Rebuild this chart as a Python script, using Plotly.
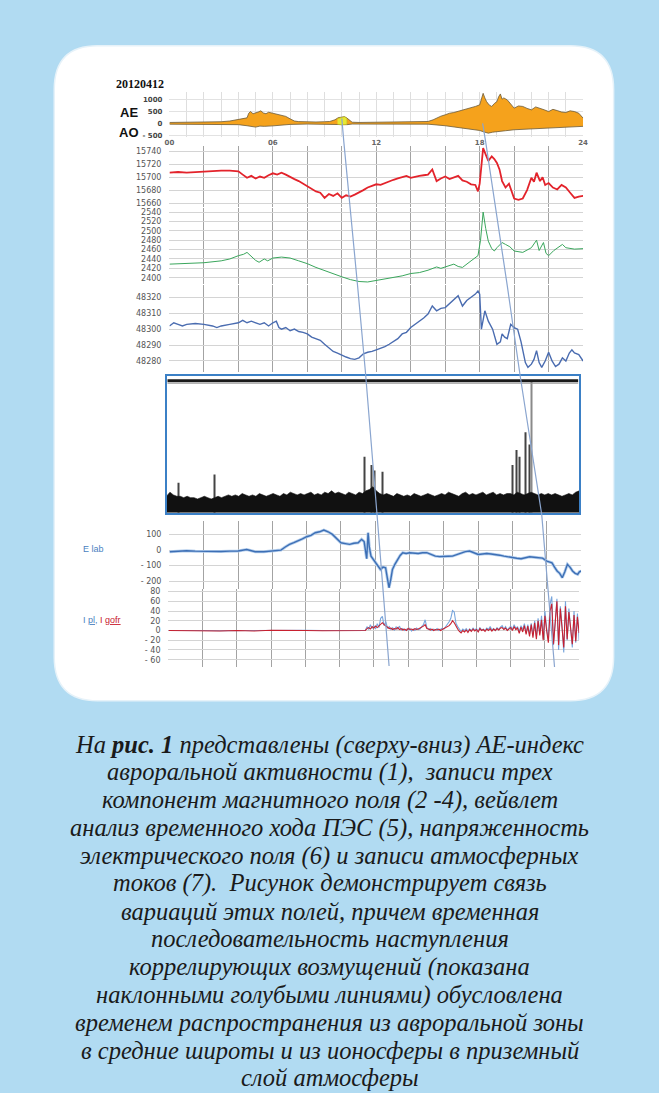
import plotly.graph_objects as go

# ---------------- DATA ----------------
date_label = "20120412"
hour_ticks = [0, 6, 12, 18, 24]
hour_labels = ["00", "06", "12", "18", "24"]

# AE index: upper envelope (AU) and lower envelope (AL), nT
ae_upper = [(0, 40), (1, 40), (2, 42), (3, 70), (3.5, 100), (4, 150), (4.3, 190), (4.5, 230), (4.6, 420),
            (4.7, 490), (4.85, 400), (5, 420), (5.15, 470), (5.3, 520), (5.45, 430), (5.6, 400), (5.75, 460),
            (6, 420), (6.25, 380), (6.5, 355), (6.75, 290), (7, 190), (7.25, 100), (7.5, 75), (8, 55), (8.5, 60),
            (9, 70), (9.3, 80), (9.6, 150), (9.8, 240), (10, 260), (10.15, 280), (10.3, 220), (10.45, 120),
            (10.6, 50), (11, 40), (12, 45), (13, 45), (14, 65), (15, 80), (15.3, 150), (15.5, 220), (15.75, 300),
            (16, 355), (16.25, 420), (16.5, 450), (16.75, 500), (17, 530), (17.25, 600), (17.5, 630), (17.75, 700),
            (18, 765), (18.1, 1000), (18.2, 1240), (18.3, 1050), (18.4, 900), (18.55, 760), (18.7, 700),
            (18.85, 820), (19, 900), (19.1, 1100), (19.2, 1215), (19.3, 1000), (19.4, 1050), (19.6, 970),
            (19.8, 800), (20, 630), (20.25, 720), (20.5, 700), (20.75, 620), (21, 560), (21.25, 680), (21.5, 630),
            (21.75, 560), (22, 490), (22.25, 580), (22.5, 530), (22.75, 470), (23, 450), (23.25, 520), (23.5, 490),
            (23.75, 420), (24, 220)]
ae_lower = [(0, -30), (3, -30), (4, -50), (4.5, -95), (4.75, -130), (5, -150), (5.25, -110), (5.5, -120),
            (6, -100), (6.5, -60), (7, -40), (8, -25), (9.6, -40), (10, -70), (10.3, -50), (10.6, -25), (15, -30),
            (16, -95), (16.5, -140), (17, -190), (17.5, -240), (18, -290), (18.25, -350), (18.5, -400),
            (18.75, -360), (19, -330), (19.5, -300), (20, -260), (20.5, -240), (21, -230), (21.5, -210),
            (22, -190), (22.5, -170), (23, -150), (23.5, -140), (24, -120)]
ae_yellow = [(9.75, 200), (10, 255), (10.15, 275), (10.3, 215), (10.3, -40), (10, -60), (9.75, -35)]

# Magnetic field components, nT
mag_h = [(0, 15707), (0.5, 15708), (1, 15707), (1.5, 15708), (2, 15708), (2.5, 15709), (3, 15710), (3.5, 15710),
         (4, 15709), (4.25, 15704), (4.5, 15699), (4.75, 15702), (5, 15698), (5.25, 15701), (5.5, 15699),
         (5.75, 15703), (6, 15706), (6.25, 15704), (6.5, 15707), (6.75, 15704), (7, 15700), (7.25, 15697),
         (7.5, 15694), (7.75, 15690), (8, 15685), (8.25, 15681), (8.5, 15678), (8.75, 15676), (9, 15668),
         (9.25, 15674), (9.5, 15671), (9.75, 15675), (10, 15668), (10.25, 15672), (10.5, 15670), (10.75, 15673),
         (11, 15676), (11.25, 15680), (11.5, 15684), (11.75, 15686), (12, 15689), (12.25, 15688), (12.5, 15691),
         (12.75, 15694), (13, 15696), (13.25, 15698), (13.5, 15700), (13.75, 15702), (14, 15699), (14.25, 15701),
         (14.5, 15702), (14.75, 15703), (15, 15704), (15.25, 15712), (15.5, 15694), (15.75, 15698), (16, 15701),
         (16.25, 15697), (16.5, 15699), (16.75, 15702), (17, 15695), (17.25, 15693), (17.5, 15689),
         (17.75, 15688), (17.9, 15678), (18.0, 15690), (18.2, 15745), (18.35, 15735), (18.5, 15725),
         (18.7, 15732), (18.85, 15728), (19, 15722), (19.15, 15712), (19.3, 15694), (19.5, 15684), (19.7, 15690),
         (19.85, 15678), (20, 15667), (20.25, 15665), (20.5, 15667), (20.75, 15680), (21, 15699), (21.15, 15693),
         (21.3, 15707), (21.5, 15694), (21.65, 15700), (21.8, 15688), (22, 15691), (22.25, 15684), (22.5, 15681),
         (22.75, 15688), (23, 15684), (23.25, 15676), (23.5, 15668), (23.75, 15670), (24, 15671)]
mag_d = [(0, 2429), (1, 2430), (2, 2432), (3, 2436), (3.5, 2440), (4, 2447), (4.3, 2450), (4.5, 2454), (4.75, 2445),
         (5, 2437), (5.2, 2433), (5.4, 2438), (5.5, 2440), (5.7, 2436), (6, 2442), (6.5, 2444), (7, 2442),
         (7.5, 2436), (8, 2430), (8.5, 2422), (9, 2415), (9.5, 2408), (10, 2402), (10.5, 2396), (11, 2392),
         (11.5, 2391), (12, 2394), (12.5, 2397), (13, 2401), (13.5, 2404), (14, 2409), (14.5, 2411), (15, 2416),
         (15.5, 2423), (15.75, 2420), (16, 2423), (16.5, 2429), (16.75, 2424), (17, 2422), (17.5, 2436),
         (17.9, 2447), (18.05, 2480), (18.2, 2540), (18.35, 2505), (18.5, 2478), (18.7, 2462), (18.85, 2457),
         (19, 2464), (19.3, 2475), (19.5, 2471), (19.75, 2466), (20, 2457), (20.5, 2454), (21, 2464), (21.3, 2480),
         (21.45, 2458), (21.6, 2470), (21.7, 2475), (21.85, 2452), (22, 2447), (22.3, 2458), (22.6, 2467),
         (22.8, 2471), (23, 2464), (23.5, 2461), (24, 2462)]
mag_z = [(0, 48302), (0.25, 48304), (0.5, 48303), (0.75, 48302), (1, 48303), (1.5, 48303.5), (2, 48303),
         (2.5, 48302), (2.75, 48301), (3, 48302), (3.5, 48303), (4, 48304), (4.25, 48305.5), (4.5, 48304),
         (4.75, 48305), (5, 48304), (5.25, 48303), (5.5, 48304), (5.75, 48302), (6, 48304), (6.2, 48305),
         (6.35, 48301), (6.5, 48300), (6.75, 48301), (7, 48299), (7.25, 48300), (7.5, 48298.5), (7.75, 48298),
         (8, 48297), (8.25, 48295), (8.5, 48294), (8.75, 48293), (9, 48290.5), (9.25, 48288), (9.5, 48286),
         (9.75, 48285), (10, 48283.5), (10.25, 48282.5), (10.5, 48281.5), (10.75, 48281), (11, 48282),
         (11.25, 48284.5), (11.5, 48285.5), (11.75, 48286), (12, 48287), (12.25, 48288), (12.5, 48289),
         (12.75, 48290.5), (13, 48292), (13.25, 48294), (13.5, 48297), (13.75, 48298), (14, 48301),
         (14.25, 48303), (14.5, 48304.5), (14.75, 48307), (15, 48309.5), (15.25, 48314.5), (15.5, 48311.5),
         (15.75, 48313), (16, 48313.5), (16.25, 48316), (16.5, 48318), (16.75, 48321), (17, 48314.5),
         (17.25, 48318), (17.5, 48320), (17.75, 48322), (17.9, 48324), (18.0, 48322), (18.1, 48300),
         (18.3, 48311.5), (18.5, 48305), (18.75, 48300), (19, 48290.5), (19.2, 48292), (19.3, 48297),
         (19.45, 48295), (19.6, 48294), (19.8, 48303), (20, 48301), (20.2, 48300), (20.4, 48292),
         (20.5, 48286.5), (20.65, 48279), (20.8, 48276), (21, 48278), (21.15, 48281), (21.3, 48286.5),
         (21.45, 48279), (21.6, 48276), (21.8, 48280), (22, 48285.5), (22.2, 48280), (22.4, 48276.5),
         (22.6, 48278), (22.8, 48282), (23, 48280), (23.2, 48285), (23.35, 48287), (23.5, 48285),
         (23.75, 48284), (24, 48280)]

# Wavelet panel (TEC), relative amplitude 0..100, sampled every 0.2 h
wave_noise = [12, 15, 13, 12, 12, 11, 12, 11, 11, 10,
              11, 12, 11, 10, 11, 12, 11, 12, 13, 12,
              13, 12, 14, 13, 12, 13, 12, 14, 13, 12,
              13, 14, 13, 12, 14, 13, 15, 14, 13, 14,
              13, 14, 15, 13, 14, 13, 15, 14, 16, 14,
              15, 14, 13, 15, 14, 13, 15, 14, 16, 17,
              19, 16, 14, 13, 14, 13, 12, 14, 13, 12,
              13, 12, 14, 13, 12, 13, 14, 13, 12, 13,
              14, 13, 15, 14, 13, 12, 14, 15, 13, 14,
              13, 14, 15, 13, 14, 15, 13, 14, 13, 14,
              14, 13, 15, 14, 13, 14, 15, 14, 13, 14,
              13, 14, 13, 14, 13, 12, 13, 14, 13, 15,
              16]
wave_t = [round(0.2 * i, 1) for i in range(len(wave_noise))]
spike_t = [0.69, 2.8, 11.5, 11.9, 12.1, 12.55, 20.1, 20.33, 20.56, 20.9, 21.13, 21.25]
spike_h = [22, 28, 41, 35, 31, 30, 35, 46, 41, 59, 50, 97]

# Electric field, V/m
e_lab = [(0, -11), (0.5, -8), (1, -4), (1.5, -7), (2, -9), (2.5, -8), (3, -9), (3.5, -7), (4, -6), (4.5, 4),
         (4.75, -3), (5, -11), (5.5, -11), (6, -6), (6.25, -4), (6.5, 0), (6.75, 20), (7, 37), (7.25, 48),
         (7.5, 58), (7.75, 72), (8, 86), (8.25, 95), (8.5, 112), (8.75, 118), (9, 129), (9.25, 118), (9.5, 101),
         (9.75, 75), (10, 47), (10.25, 42), (10.5, 37), (10.75, 44), (11, 47), (11.2, 69), (11.35, 55),
         (11.45, -20), (11.5, -56), (11.58, 112), (11.65, 20), (11.75, -39), (12, -82), (12.15, -100),
         (12.3, -125), (12.45, -110), (12.6, -114), (12.7, -180), (12.8, -243), (12.9, -190), (13, -125),
         (13.15, -90), (13.3, -60), (13.45, -35), (13.6, -17), (13.8, -22), (14, -17), (14.25, -20), (14.5, -22),
         (14.75, -17), (15, -17), (15.25, -28), (15.5, -39), (15.75, -42), (16, -43), (16.25, -40), (16.5, -39),
         (16.75, -28), (17, -17), (17.25, -10), (17.5, -6), (17.75, -18), (18, -28), (18.25, -25), (18.5, -22),
         (18.75, -25), (19, -28), (19.25, -33), (19.5, -39), (19.75, -45), (20, -49), (20.25, -53), (20.5, -56),
         (20.75, -50), (21, -43), (21.25, -46), (21.5, -49), (21.75, -52), (22, -71), (22.15, -75), (22.3, -82),
         (22.45, -110), (22.6, -135), (22.75, -150), (22.9, -178), (23.05, -140), (23.2, -92), (23.35, -110),
         (23.5, -135), (23.65, -150), (23.8, -157), (23.9, -140), (24, -135)]

# Atmospheric currents: quiet part (hours 0..11.5) then 0.1-h samples from 11.6 to 24.0
cur_t_quiet = [0, 1, 2, 3, 4, 5, 6, 7, 8, 9, 10, 11, 11.5]
i_pl_quiet = [0, 0.5, 0, -0.5, 0, 0.5, 0, 0, 0.5, 0, 0, 0, 0]
i_gofr_quiet = [0, -0.5, 0, -1, 0, -1, 0.5, -0.5, 0, -0.5, 0, 0.5, 0]
i_pl_active = [8, 2, 12, 4, 10, 3, 14, 6, 25, 29, 10, 18, 5, 8, 2, 6, 0, 8, 3, 9,
               1, 4, 0, 3, 1, 5, -1, 3, 0, 5, 2, 3, 8, 12, 22, 6, 2, 4, 0, 3,
               1, 4, 0, 2, 5, 3, 8, 12, 18, 25, 41, 38, 15, 8, 4, -2, 3, 0, 4, -1,
               3, 0, 5, 1, 4, -2, 6, 1, 3, 0, 5, 2, 8, 1, 4, 0, 6, 2, 7, 10,
               3, 8, 1, 5, 9, 2, 12, 4, 8, -3, 10, 2, 14, -5, 12, -8, 15, -10, 20, -12,
               25, -6, 30, -18, 40, 5, -20, 55, 70, -30, 20, 65, -40, 50, 10, -45, 60, -20, 45, 5,
               -35, 40, -25, 35, -20]
i_gofr_active = [4, 6, 3, 8, 5, 9, 6, 10, 14, 16, 12, 9, 6, 4, 5, 2, 4, 3, 6, 2,
                 4, 1, 3, 0, 4, 2, 3, 1, 4, 2, 3, 5, 6, 9, 12, 4, 3, 1, 3, 0,
                 2, 1, 3, 0, 2, 4, 5, 8, 10, 14, 20, 16, 8, 3, -2, -5, 0, -3, 1, -4,
                 2, -2, 3, -1, 2, -3, 4, 0, 2, -2, 3, 0, 4, -1, 3, 0, 4, 1, 5, 6,
                 2, 5, 0, 4, 6, 0, 8, 2, 5, -6, 7, -3, 10, -8, 9, -12, 12, -15, 16, -18,
                 20, -10, 22, -20, 30, 0, -25, 40, 55, -28, 15, 60, -30, 45, 5, -35, 50, -18, 38, 8,
                 -28, 32, -22, 28, -5]
cur_t_active = [round(11.6 + 0.1 * i, 1) for i in range(len(i_pl_active))]

caption_lines = [
    "На <b>рис. 1</b> представлены (сверху-вниз) АЕ-индекс",
    "авроральной активности (1),  записи трех",
    "компонент магнитного поля (2 -4), вейвлет",
    "анализ временного хода ПЭС (5), напряженность",
    "электрического поля (6) и записи атмосферных",
    "токов (7).  Рисунок демонстрирует связь",
    "вариаций этих полей, причем временная",
    "последовательность наступления",
    "коррелирующих возмущений (показана",
    "наклонными голубыми линиями) обусловлена",
    "временем распространения из авроральной зоны",
    "в средние широты и из ионосферы в приземный",
    "слой атмосферы",
]

# ---------------- LAYOUT HELPERS ----------------
W, H = 659, 1093


def px(x):
    return x / W


def py(y):
    return 1 - y / H


def unzip(pts):
    return [p[0] for p in pts], [p[1] for p in pts]


VGRID = "#a3a3a3"
HGRID = "#d4d4d4"
TICKFONT = dict(family="DejaVu Sans", size=8, color="#555555")

fig = go.Figure()

# AE panel
t, v = unzip(ae_lower)
fig.add_trace(go.Scatter(x=t, y=v, mode="lines", line=dict(color="#6b5a3a", width=0.8),
                         xaxis="x", yaxis="y", showlegend=False))
t, v = unzip(ae_upper)
fig.add_trace(go.Scatter(x=t, y=v, mode="lines", line=dict(color="#6b5a3a", width=0.8), fill="tonexty",
                         fillcolor="#f5a21c", xaxis="x", yaxis="y", showlegend=False))
t, v = unzip(ae_yellow)
fig.add_trace(go.Scatter(x=t, y=v, mode="lines", line=dict(color="#b8b020", width=0.6), fill="toself",
                         fillcolor="#e6e832", xaxis="x", yaxis="y", showlegend=False))

# magnetic components
t, v = unzip(mag_h)
fig.add_trace(go.Scatter(x=t, y=v, mode="lines", line=dict(color="#e3232b", width=1.8),
                         xaxis="x2", yaxis="y2", showlegend=False))
t, v = unzip(mag_d)
fig.add_trace(go.Scatter(x=t, y=v, mode="lines", line=dict(color="#3aa65c", width=1.0),
                         xaxis="x3", yaxis="y3", showlegend=False))
t, v = unzip(mag_z)
fig.add_trace(go.Scatter(x=t, y=v, mode="lines", line=dict(color="#4a6cb0", width=1.4),
                         xaxis="x4", yaxis="y4", showlegend=False))

# wavelet
fig.add_trace(go.Scatter(x=wave_t, y=wave_noise, mode="lines", line=dict(color="#111111", width=0.6),
                         fill="tozeroy", fillcolor="#111111", xaxis="x5", yaxis="y5", showlegend=False))
fig.add_trace(go.Bar(x=spike_t, y=spike_h, width=0.06,
                     marker=dict(color=["#444444"] * (len(spike_t) - 1) + ["#8a8a8a"], line=dict(width=0)),
                     xaxis="x5", yaxis="y5", showlegend=False))

# E lab
t, v = unzip(e_lab)
fig.add_trace(go.Scatter(x=t, y=v, mode="lines", line=dict(color="#b3cdec", width=3),
                         xaxis="x6", yaxis="y6", showlegend=False))
fig.add_trace(go.Scatter(x=t, y=v, mode="lines", line=dict(color="#3d6fb5", width=1.4),
                         xaxis="x6", yaxis="y6", showlegend=False))

# currents
fig.add_trace(go.Scatter(x=cur_t_quiet + cur_t_active, y=i_pl_quiet + i_pl_active, mode="lines",
                         line=dict(color="#79a6dc", width=1.1), xaxis="x7", yaxis="y7", showlegend=False))
fig.add_trace(go.Scatter(x=cur_t_quiet + cur_t_active, y=i_gofr_quiet + i_gofr_active, mode="lines",
                         line=dict(color="#c8202f", width=1.1), xaxis="x7", yaxis="y7", showlegend=False))


def xaxis(x0, x1, anchor, dtick=2, **kw):
    d = dict(domain=[px(x0), px(x1)], range=[0, 24], anchor=anchor, showgrid=True, gridcolor=VGRID,
             gridwidth=1, tick0=0, dtick=dtick, showticklabels=False, ticks="", zeroline=False,
             showline=False, fixedrange=True)
    d.update(kw)
    return d


def yaxis(y0, y1, anchor, rng, vals, texts, **kw):
    d = dict(domain=[py(y1), py(y0)], range=rng, anchor=anchor, showgrid=True, gridcolor=HGRID,
             tickvals=vals, ticktext=texts, tickfont=TICKFONT, ticks="", zeroline=False, showline=False,
             ticklabelstandoff=7, fixedrange=True)
    d.update(kw)
    return d


layout = dict(
    width=W, height=H, margin=dict(l=0, r=0, t=0, b=0),
    paper_bgcolor="#b1dbf2", plot_bgcolor="rgba(0,0,0,0)",
    showlegend=False, barmode="overlay",
)

layout["xaxis"] = xaxis(167, 587, "y", dtick=6, showgrid=True, gridcolor="#dedede",
                        showticklabels=True, tickvals=hour_ticks, ticktext=["<b>%s</b>" % s for s in hour_labels],
                        tickfont=dict(family="DejaVu Sans", size=7, color="#666666"), ticklabelstandoff=0,
                        minor=dict(dtick=1, showgrid=True, gridcolor="#dedede"))
layout["yaxis"] = yaxis(90, 136, "x", [-574, 1312], [1000, 500, 0, -500],
                        ["<b>1000</b>", "<b>500</b>", "<b>0</b>", "<b>- 500</b>"],
                        tickfont=dict(family="DejaVu Sans", size=7, color="#444444"), ticklabelstandoff=6,
                        gridcolor="#e2e2e2")

layout["xaxis2"] = xaxis(167, 587, "y2")
layout["yaxis2"] = yaxis(145, 206, "x2", [15653.8, 15747.7], [15740, 15720, 15700, 15680, 15660],
                         ["15740", "15720", "15700", "15680", "15660"])
layout["xaxis3"] = xaxis(167, 587, "y3")
layout["yaxis3"] = yaxis(207, 283, "x3", [2387.3, 2548.5], [2540, 2520, 2500, 2480, 2460, 2440, 2420, 2400],
                         ["2540", "2520", "2500", "2480", "2460", "2440", "2420", "2400"])
layout["xaxis4"] = xaxis(167, 587, "y4")
layout["yaxis4"] = yaxis(284, 372, "x4", [48272.9, 48327.9], [48320, 48310, 48300, 48290, 48280],
                         ["48320", "48310", "48300", "48290", "48280"])
layout["xaxis5"] = dict(domain=[px(164), px(583)], range=[0, 24], anchor="y5", showgrid=False,
                        showticklabels=False, ticks="", zeroline=False, showline=True, mirror=True,
                        linecolor="#3b80c6", linewidth=2, fixedrange=True)
layout["yaxis5"] = dict(domain=[py(513), py(376)], range=[0, 100], anchor="x5", showgrid=False,
                        showticklabels=False, ticks="", zeroline=False, showline=True, mirror=True,
                        linecolor="#3b80c6", linewidth=2, fixedrange=True)
layout["xaxis6"] = xaxis(167, 585, "y6")
layout["yaxis6"] = yaxis(521, 590, "x6", [-253, 190], [100, 0, -100, -200], ["100", "0", "- 100", "- 200"])
layout["xaxis7"] = xaxis(166, 583, "y7")
layout["yaxis7"] = yaxis(590, 668, "x7", [-74.9, 84.7], [80, 60, 40, 20, 0, -20, -40, -60],
                         ["80", "60", "40", "20", "0", "- 20", "- 40", "- 60"])

# shapes: white rounded card, wavelet header bar, slanted propagation lines
x0, x1, y0, y1, r = 50, 618, 44, 702, 44
rx, ry = r / W, r / H
card = ("M {a},{b} L {c},{b} Q {x1},{b} {x1},{d} L {x1},{e} Q {x1},{y1} {c},{y1} "
        "L {a},{y1} Q {x0},{y1} {x0},{e} L {x0},{d} Q {x0},{b} {a},{b} Z").format(
    a=px(x0) + rx, b=py(y0), c=px(x1) - rx, d=py(y0) - ry, e=py(y1) + ry,
    x0=px(x0), x1=px(x1), y1=py(y1))
shapes = [dict(type="path", path=card, xref="paper", yref="paper", fillcolor="white",
               line=dict(color="#e6f2f9", width=1.5), layer="below")]
shapes.append(dict(type="line", xref="paper", yref="paper", x0=px(165), x1=px(582), y0=py(380.5), y1=py(380.5),
                   line=dict(color="#1a1a1a", width=3), layer="above"))
shapes.append(dict(type="line", xref="paper", yref="paper", x0=px(165), x1=px(582), y0=py(383), y1=py(383),
                   line=dict(color="#9a9a9a", width=1), layer="above"))


def polyline(pts):
    s = "M " + " L ".join("{:.5f},{:.5f}".format(px(a), py(b)) for a, b in pts)
    return s


shapes.append(dict(type="path", xref="paper", yref="paper",
                   path=polyline([(342, 117), (344, 140), (358, 285), (366, 372), (378, 518), (390, 667)]),
                   line=dict(color="#8aa5cf", width=1.2), layer="above"))
shapes.append(dict(type="path", xref="paper", yref="paper",
                   path=polyline([(485, 122), (488, 140), (510, 285), (523, 375), (545, 515), (558, 668)]),
                   line=dict(color="#8aa5cf", width=1.2), layer="above"))
layout["shapes"] = shapes


def note(x, y, text, font):
    return dict(x=px(x), y=py(y), xref="paper", yref="paper", text=text, showarrow=False,
                xanchor="center", yanchor="middle", font=font)


ann = []
ann.append(note(137, 82, "<b>" + date_label + "</b>", dict(family="Liberation Serif", size=12, color="#111111")))
ann.append(note(126, 111, "<b>AE</b>", dict(family="Liberation Sans", size=13, color="#111111")))
ann.append(note(126, 131, "<b>AO</b>", dict(family="Liberation Sans", size=13, color="#111111")))
ann.append(note(90, 550, "E lab", dict(family="Liberation Sans", size=9, color="#4a7fbf")))
ann.append(note(98, 621,
                "<span style='color:#4a7fbf'>I <u>pl</u>,</span> <span style='color:#c8202f'>I <u>gofr</u></span>",
                dict(family="Liberation Sans", size=9, color="#4a7fbf")))
for i, line in enumerate(caption_lines):
    ann.append(note(330, 746 + 27.9 * i, "<i>" + line + "</i>",
                    dict(family="Liberation Serif", size=24.5, color="#1a1a1a")))
layout["annotations"] = ann

fig.update_layout(**layout)
fig.write_html("out.html", config={"displayModeBar": False},
               post_script="document.body.style.margin='0';document.body.style.overflow='hidden';")
